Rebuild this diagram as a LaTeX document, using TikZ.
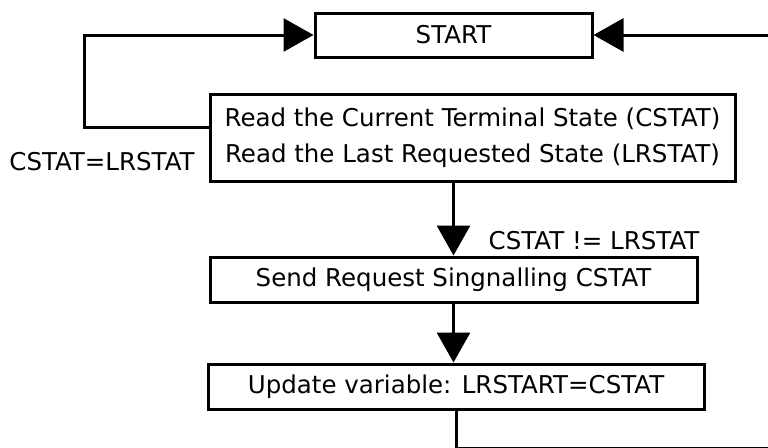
\documentclass[tikz,border=0pt]{standalone}
\usepackage{fontspec}
\setmainfont{DejaVu Sans}
\usetikzlibrary{arrows.meta}
\begin{document}
\begin{tikzpicture}[x=1pt,y=-1pt,
  box/.style={draw=black,line width=3pt,rectangle,inner sep=0pt,font=\fontsize{24.5}{36}\selectfont},
  lbl/.style={inner sep=0pt,font=\fontsize{24.5}{30}\selectfont},
  arr/.style={line width=3pt,-{Triangle[length=30pt,width=33pt]}},
  ln/.style={line width=3pt}]
\useasboundingbox (0,0) rectangle (768,447);
\node[box,minimum width=277pt,minimum height=44pt] (start) at (453.5,35) {START};
\node[box,minimum width=525pt,minimum height=87pt,align=center] (read) at (472.5,137.5)
  {Read the Current Terminal State (CSTAT)\\Read the Last Requested State (LRSTAT)};
\node[box,minimum width=487pt,minimum height=45pt] (send) at (453.5,279.5) {Send Request Singnalling CSTAT};
\node[box,minimum width=496pt,minimum height=45pt] (update) at (456,386.5) {Update variable: LRSTART=CSTAT};
\node[lbl] (eq) at (102,162) {CSTAT=LRSTAT};
\node[lbl] (neq) at (594,241) {CSTAT != LRSTAT};
\coordinate (lc) at (84,127);
\coordinate (br) at (790,448);
\draw[arr] (lc -| read.west) -- (lc) |- (start.west);
\draw[arr] (read.south -| send.north) -- (send.north);
\draw[arr] (send.south) -- (send.south |- update.north);
\draw[arr] (update.south) |- (br) |- (start.east);
\end{tikzpicture}
\end{document}
